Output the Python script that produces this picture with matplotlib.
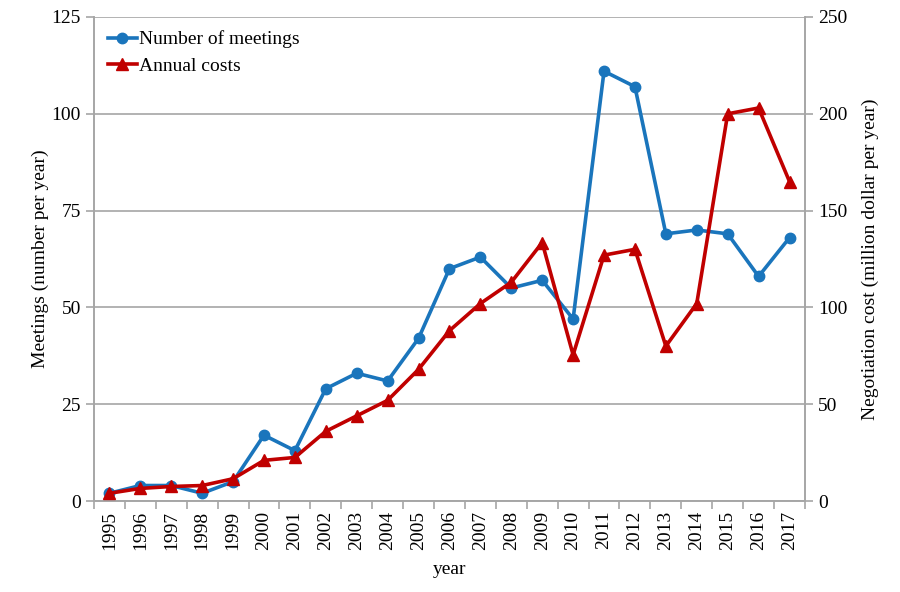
import numpy as np
import matplotlib.pyplot as plt

plt.rcParams['font.family'] = ['Liberation Serif', 'DejaVu Serif']

## data
years = list(range(1995, 2018))
meetings = [2, 4, 4, 2, 5, 17, 13, 29, 33, 31, 42, 60, 63, 55, 57, 47,
            111, 107, 69, 70, 69, 58, 68]
costs = [4, 6.5, 7.5, 8, 11.5, 21, 22.5, 36, 44, 52, 68, 88, 102, 113,
         133.5, 75.5, 127, 130, 80, 102, 200, 203, 165]

blue = '#1a75bc'
red = '#c00000'
grey = '#a6a6a6'
fs = 14

fig = plt.figure(figsize=(9, 5.92), dpi=100)
ax = fig.add_axes([0.1044, 0.1537, 0.79, 0.8176])
ax2 = ax.twinx()

x = np.arange(len(years))

ax.set_ylim(0, 125)
ax.set_yticks(np.arange(0, 126, 25))
ax2.set_ylim(0, 250)
ax2.set_yticks(np.arange(0, 251, 50))
ax.set_xlim(-0.5, len(years) - 0.5)

ax.grid(axis='y', color=grey, linewidth=1.2)
ax.set_axisbelow(True)

# meetings drawn on the right axis scaled x2 so both lines share one layer
lm, = ax2.plot(x, np.array(meetings) * 2, color=blue, linewidth=2.6,
               marker='o', markersize=7.5, label='Number of meetings', zorder=3)
lc, = ax2.plot(x, costs, color=red, linewidth=2.6, marker='^',
               markersize=8.5, label='Annual costs', zorder=4)

ax.set_xticks(x)
ax.set_xticklabels([str(y) for y in years], rotation=90)
ax.set_xticks(np.arange(-0.5, len(years), 1), minor=True)
ax.tick_params(axis='x', which='major', length=0, labelsize=fs, pad=7)
ax.tick_params(axis='x', which='minor', length=6, color=grey, width=1.2)
ax.tick_params(axis='y', length=6, color=grey, width=1.2, labelsize=fs)
ax2.tick_params(axis='y', length=6, color=grey, width=1.2, labelsize=fs)

for a in (ax, ax2):
    for s in a.spines.values():
        s.set_color(grey)
        s.set_linewidth(1.2)
    a.spines['top'].set_visible(False)

ax.set_xlabel('year', fontsize=fs, labelpad=8)
ax.set_ylabel('Meetings (number per year)', fontsize=fs, labelpad=2)
ax2.set_ylabel('Negotiation cost (million dollar per year)', fontsize=fs,
               labelpad=10)

ax2.legend(handles=[lm, lc], loc='upper left', frameon=False, fontsize=fs,
           handlelength=1.5, handletextpad=0.1, labelspacing=0.45,
           borderaxespad=0.3, bbox_to_anchor=(0.0, 1.0))

fig.savefig('out.png', dpi=100)
